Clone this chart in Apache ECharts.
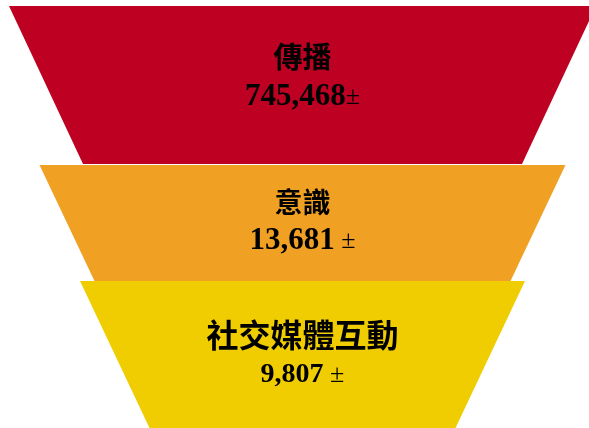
<!DOCTYPE html>
<html>
<head>
<meta charset="utf-8">
<script src="https://cdn.jsdelivr.net/npm/echarts@6/dist/echarts.min.js"></script>
<style>
html,body{margin:0;padding:0;background:#fff;}
#chart{width:589px;height:428px;}
</style>
</head>
<body>
<div id="chart"></div>
<script>
// ---- data ----
const categories = ['傳播', '意識', '社交媒體互動'];
const values = [745468, 13681, 9807];
const valueSuffixes = ['±', ' ±', ' ±'];

// ---- style / layout ----
const colors = ['#BE0023', '#F0A023', '#F0CD00'];
const shapes = [
  { left: 9, top: 6, width: 587, height: 158, minSize: 439, nameSize: 29, valueSize: 31, nameLH: 45, valueLH: 35, padBottom: 21 },
  { left: 39.5, top: 165, width: 526, height: 116, minSize: 416, nameSize: 28, valueSize: 31, nameLH: 43, valueLH: 35, padBottom: 7 },
  { left: 80, top: 281, width: 445, height: 147, minSize: 306, nameSize: 32, valueSize: 28, nameLH: 49, valueLH: 31, padBottom: 8 }
];

function fmt(v) {
  return String(v).replace(/\B(?=(\d{3})+(?!\d))/g, ',');
}

const series = categories.map(function (name, i) {
  const s = shapes[i];
  return {
    type: 'funnel',
    left: s.left, top: s.top, width: s.width, height: s.height,
    min: 0, max: values[i],
    minSize: s.minSize, maxSize: '100%',
    gap: 0, sort: 'none',
    silent: true,
    itemStyle: { color: colors[i], borderWidth: 0 },
    label: {
      show: true,
      position: 'inside',
      padding: [0, 0, s.padBottom, 0],
      formatter: function (p) {
        return '{n|' + p.name + '}\n{v|' + fmt(p.value) + '}{p|' + valueSuffixes[i] + '}';
      },
      rich: {
        n: { fontFamily: '"Noto Sans CJK TC"', fontWeight: 'bold', fontSize: s.nameSize, color: '#000', lineHeight: s.nameLH, align: 'center' },
        v: { fontFamily: '"Liberation Serif"', fontWeight: 'bold', fontSize: s.valueSize, color: '#000', lineHeight: s.valueLH },
        p: { fontFamily: '"Liberation Serif"', fontSize: 26, color: '#000', lineHeight: s.valueLH }
      }
    },
    labelLine: { show: false },
    emphasis: { disabled: true },
    data: [{ name: name, value: values[i] }]
  };
});

const chart = echarts.init(document.getElementById('chart'), null, { renderer: 'canvas' });
chart.setOption({
  animation: false,
  backgroundColor: '#ffffff',
  series: series
});
</script>
</body>
</html>
